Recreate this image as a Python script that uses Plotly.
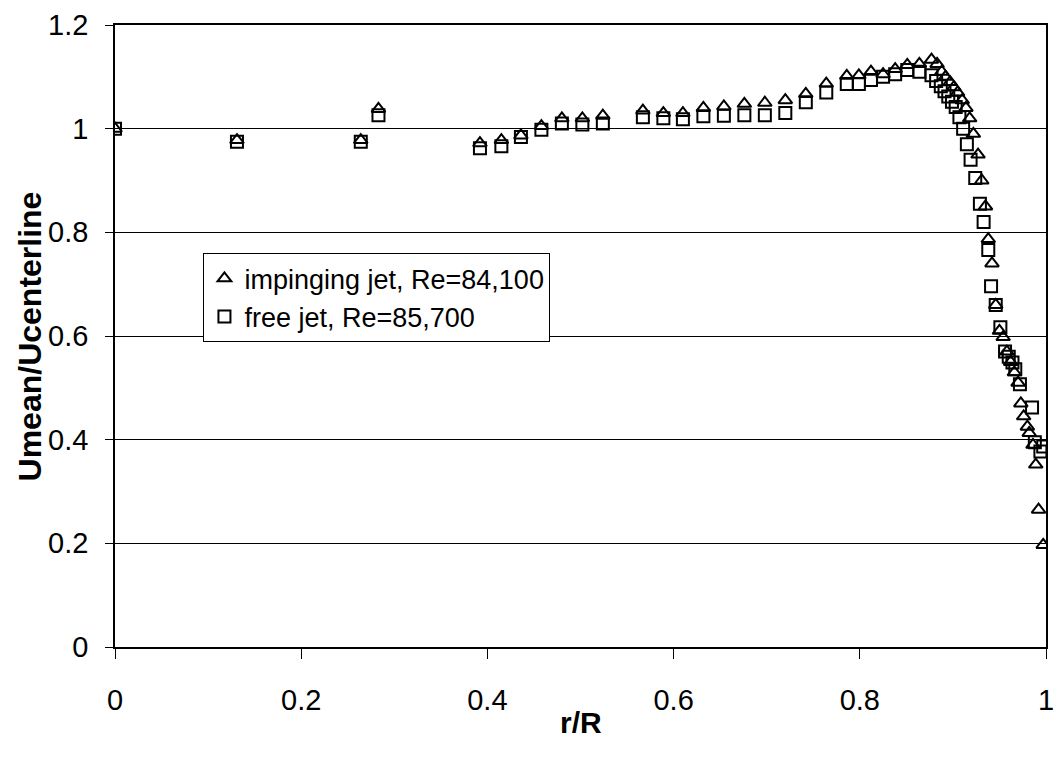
import plotly.graph_objects as go

# impinging jet, Re=84,100 (triangles)
imp_x = [0.0, 0.131, 0.264, 0.283, 0.392, 0.415, 0.436, 0.458, 0.480, 0.502, 0.524,
         0.567, 0.589, 0.610, 0.632, 0.654, 0.676, 0.698, 0.720, 0.742, 0.764, 0.786,
         0.799, 0.812, 0.825, 0.838, 0.851, 0.864, 0.877, 0.883, 0.888, 0.892, 0.897,
         0.901, 0.905, 0.910, 0.914, 0.918, 0.922, 0.927, 0.931, 0.935, 0.938, 0.942,
         0.946, 0.950, 0.954, 0.958, 0.962, 0.966, 0.970, 0.973, 0.976, 0.980, 0.982,
         0.986, 0.989, 0.992, 0.997]
imp_y = [1.000, 0.978, 0.978, 1.038, 0.972, 0.978, 0.987, 1.005, 1.020, 1.020, 1.025,
         1.035, 1.030, 1.030, 1.040, 1.043, 1.048, 1.050, 1.055, 1.067, 1.087, 1.102,
         1.103, 1.110, 1.105, 1.115, 1.123, 1.125, 1.133, 1.125, 1.110, 1.100, 1.090,
         1.080, 1.070, 1.055, 1.040, 1.020, 0.990, 0.950, 0.900, 0.850, 0.787, 0.740,
         0.660, 0.610, 0.598, 0.570, 0.550, 0.530, 0.510, 0.470, 0.445, 0.425, 0.413,
         0.390, 0.352, 0.265, 0.197]

# free jet, Re=85,700 (squares)
free_x = [0.0, 0.131, 0.264, 0.283, 0.392, 0.415, 0.436, 0.458, 0.480, 0.502, 0.524,
          0.567, 0.589, 0.610, 0.632, 0.654, 0.676, 0.698, 0.720, 0.742, 0.764, 0.786,
          0.799, 0.812, 0.825, 0.838, 0.851, 0.864, 0.877, 0.882, 0.887, 0.891, 0.895,
          0.899, 0.903, 0.907, 0.911, 0.915, 0.919, 0.924, 0.929, 0.933, 0.938, 0.941,
          0.946, 0.951, 0.956, 0.960, 0.964, 0.967, 0.972, 0.985, 0.988, 0.994, 0.997]
free_y = [1.000, 0.975, 0.975, 1.026, 0.962, 0.966, 0.984, 0.998, 1.010, 1.008, 1.010,
          1.022, 1.020, 1.018, 1.024, 1.025, 1.026, 1.026, 1.030, 1.051, 1.070, 1.086,
          1.086, 1.094, 1.100, 1.105, 1.113, 1.110, 1.103, 1.092, 1.082, 1.072, 1.062,
          1.052, 1.042, 1.022, 1.000, 0.970, 0.940, 0.905, 0.855, 0.820, 0.766, 0.696,
          0.660, 0.617, 0.570, 0.560, 0.549, 0.536, 0.507, 0.462, 0.395, 0.377, 0.387]

x_ticks = [0, 0.2, 0.4, 0.6, 0.8, 1.0]
x_tick_labels = ["0", "0.2", "0.4", "0.6", "0.8", "1"]
y_ticks = [0, 0.2, 0.4, 0.6, 0.8, 1.0, 1.2]
y_tick_labels = ["0", "0.2", "0.4", "0.6", "0.8", "1", "1.2"]

FONT = "Liberation Sans, Arial, sans-serif"

fig = go.Figure()
fig.add_trace(go.Scatter(
    x=free_x, y=free_y, mode="markers", name="free jet, Re=85,700",
    marker=dict(symbol="square-open", size=12, color="black", line=dict(width=2, color="black")),
))
fig.add_trace(go.Scatter(
    x=imp_x, y=imp_y, mode="markers", name="impinging jet, Re=84,100",
    marker=dict(symbol="triangle-up-open", size=12, color="black", line=dict(width=2, color="black")),
))

fig.update_layout(
    width=1057, height=757,
    margin=dict(l=115, r=11, t=25, b=110),
    paper_bgcolor="white", plot_bgcolor="white",
    font=dict(family=FONT, size=24, color="black"),
    showlegend=True,
    legend=dict(
        x=0.095, y=0.633, xanchor="left", yanchor="top",
        bgcolor="white", bordercolor="black", borderwidth=1,
        font=dict(family=FONT, size=27, color="black"),
        traceorder="reversed", itemsizing="constant",
        tracegroupgap=0, itemwidth=30,
    ),
    xaxis=dict(
        range=[0, 1], tickvals=x_ticks, ticktext=x_tick_labels,
        showgrid=False, zeroline=False, automargin=False,
        showline=True, linecolor="black", linewidth=1.5, mirror=True,
        ticks="outside", ticklen=10, tickcolor="black",
        tickfont=dict(size=29), ticklabelstandoff=16,
        ticklabeloverflow="allow",
    ),
    yaxis=dict(
        range=[0, 1.2], tickvals=y_ticks, ticktext=y_tick_labels,
        showgrid=True, gridcolor="black", gridwidth=1, zeroline=False, automargin=False,
        showline=True, linecolor="black", linewidth=1.5, mirror=True,
        ticks="outside", ticklen=8, tickcolor="black",
        tickfont=dict(size=29), ticklabelstandoff=11,
    ),
    annotations=[
        dict(text="<b>r/R</b>", xref="paper", yref="paper", x=0.5, y=-0.1206,
             xanchor="center", yanchor="middle", showarrow=False,
             font=dict(family=FONT, size=30, color="black")),
        dict(text="<b>Umean/Ucenterline</b>", xref="paper", yref="paper",
             x=-0.0908, y=0.5, xanchor="center", yanchor="middle", textangle=-90,
             showarrow=False, font=dict(family=FONT, size=32, color="black")),
    ],
)

fig.write_html("out.html", config={"displayModeBar": False},
               post_script="document.body.style.margin='0';document.body.style.overflow='hidden';")
